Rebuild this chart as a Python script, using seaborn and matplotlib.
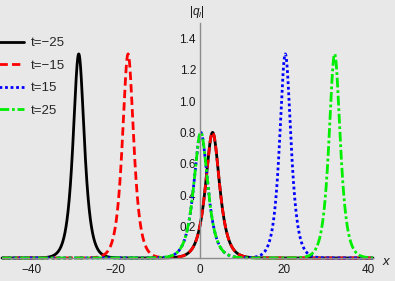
import numpy as np
import pandas as pd
import seaborn as sns
import matplotlib.pyplot as plt
from matplotlib.ticker import MultipleLocator

# curve parameters (sech-shaped pulses)
labels = ['t=\u221225', 't=\u221215', 't=15', 't=25']
tall_center = [-28.8, -17.1, 20.2, 31.9]
tall_height = [1.3, 1.3, 1.3, 1.3]
tall_width = [0.85, 0.85, 0.85, 0.85]
small_center = [2.95, 2.95, 0.15, 0.15]
small_height = [0.8, 0.8, 0.8, 0.8]
small_width = [0.68, 0.68, 0.68, 0.68]
colors = ['black', '#ff0000', '#0000ff', '#00ee00']
styles = ['-', (0, (3, 1.5)), (0, (1, 1)), (0, (3.5, 1, 1, 1))]

x = np.linspace(-47, 41, 3000)
frames = []
for i, lab in enumerate(labels):
    y = (tall_height[i] / np.cosh(tall_width[i] * (x - tall_center[i]))
         + small_height[i] / np.cosh(small_width[i] * (x - small_center[i])))
    frames.append(pd.DataFrame({'x': x, 'q': y, 't': lab}))
df = pd.concat(frames)

sns.set_style('white')
plt.rcParams['font.family'] = ['Liberation Sans', 'DejaVu Sans']
plt.rcParams['mathtext.fontset'] = 'custom'
plt.rcParams['mathtext.rm'] = 'Liberation Sans'
plt.rcParams['mathtext.it'] = 'Liberation Sans:italic'

fig = plt.figure(figsize=(3.95, 2.81), dpi=100)
fig.patch.set_facecolor('#e8e8e8')
ax = fig.add_axes([2 / 395, 23 / 281, 371 / 395, 235.5 / 281])
ax.set_facecolor('#e8e8e8')

for i, lab in enumerate(labels):
    d = df[df['t'] == lab]
    sns.lineplot(data=d, x='x', y='q', color=colors[i], linestyle=styles[i],
                 linewidth=2, label=lab, ax=ax, clip_on=False)

ax.set_xlim(-47, 41)
ax.set_ylim(0, 1.5)
ax.spines['left'].set_position(('data', 0))
ax.spines['top'].set_visible(False)
ax.spines['right'].set_visible(False)
for s in ['left', 'bottom']:
    ax.spines[s].set_color('#8c8c8c')
    ax.spines[s].set_linewidth(1)

ax.xaxis.set_major_locator(MultipleLocator(20))
ax.xaxis.set_minor_locator(MultipleLocator(5))
ax.yaxis.set_major_locator(MultipleLocator(0.2))
ax.yaxis.set_minor_locator(MultipleLocator(0.05))
ax.set_yticks([0.2, 0.4, 0.6, 0.8, 1.0, 1.2, 1.4])
ax.tick_params(axis='both', which='both', direction='in', color='#8c8c8c',
               labelsize=8.5, labelcolor='#1a1a1a')
ax.tick_params(which='major', length=4)
ax.tick_params(which='minor', length=2)
ax.tick_params(axis='x', pad=4)
ax.tick_params(axis='y', pad=3)
ax.set_xlabel('')
ax.set_ylabel('')

fig.text(197 / 395, 1 - 12 / 281, '$|q_l|$', ha='center', va='center',
         fontsize=8.5, color='#1a1a1a')
fig.text(387 / 395, 1 - 262 / 281, '$x$', ha='center', va='center',
         fontsize=9.5, color='#1a1a1a')

ax.legend(loc='upper left', bbox_to_anchor=(-0.04, 0.91),
          bbox_transform=fig.transFigure, frameon=False, fontsize=9.5,
          handlelength=2.1, handletextpad=0.5, labelspacing=0.77)

fig.savefig('out.png', dpi=100, facecolor=fig.get_facecolor())
